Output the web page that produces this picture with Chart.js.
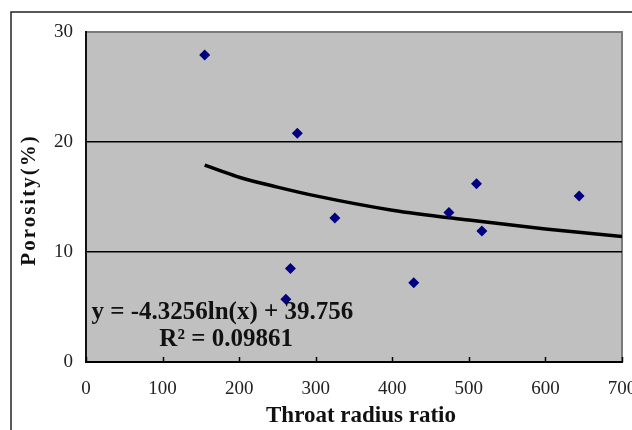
<!DOCTYPE html>
<html>
<head>
<meta charset="utf-8">
<script src="https://cdn.jsdelivr.net/npm/chart.js@4/dist/chart.umd.min.js"></script>
<style>
html, body { margin: 0; padding: 0; background: #fff; }
</style>
</head>
<body>
<canvas id="chart_porosity" width="632" height="430"></canvas>
<script>
// scatter points
var radiusRatio = [155, 261, 267, 276, 325, 428, 474, 510, 517, 644];
var porosity = [27.9, 5.7, 8.5, 20.8, 13.1, 7.2, 13.6, 16.2, 11.9, 15.1];

// log trendline
var trendX = [155, 175, 200, 250, 300, 400, 500, 600, 700];
var trendY = [17.9, 17.4, 16.8, 15.9, 15.1, 13.8, 12.9, 12.1, 11.4];

var xTitle = 'Throat radius ratio';
var yTitle = 'Porosity(%)';
var equationText = 'y = -4.3256ln(x) + 39.756';
var r2Text = 'R\u00B2 = 0.09861';

var serif = '"Times New Roman", "Liberation Serif", serif';

function toPoints(xs, ys) {
    return xs.map((x, i) => ({ x: x, y: ys[i] }));
}

var excelFrame = {
    id: 'excelFrame',
    beforeDraw(chart) {
        var ctx = chart.ctx, a = chart.chartArea;
        ctx.save();
        ctx.fillStyle = '#fff';
        ctx.fillRect(0, 0, chart.width, chart.height);
        // outer chart border (only left and top show)
        ctx.strokeStyle = '#222';
        ctx.lineWidth = 1.5;
        ctx.beginPath();
        ctx.moveTo(11, 440);
        ctx.lineTo(11, 12);
        ctx.lineTo(640, 12);
        ctx.stroke();
        // plot area
        ctx.fillStyle = '#c0c0c0';
        ctx.fillRect(a.left, a.top, a.right - a.left, a.bottom - a.top);
        ctx.strokeStyle = '#7a7a7a';
        ctx.lineWidth = 2;
        ctx.beginPath();
        ctx.moveTo(a.left, a.top);
        ctx.lineTo(a.right, a.top);
        ctx.lineTo(a.right, a.bottom);
        ctx.stroke();
        ctx.restore();
    },
    afterDraw(chart) {
        var ctx = chart.ctx, a = chart.chartArea;
        var xs = chart.scales.x, ys = chart.scales.y;
        ctx.save();
        // tick marks point into the plot
        ctx.strokeStyle = '#000';
        ctx.lineWidth = 1.5;
        xs.ticks.forEach(t => {
            var px = Math.round(xs.getPixelForValue(t.value)) + 0.5;
            ctx.beginPath();
            ctx.moveTo(px, a.bottom);
            ctx.lineTo(px, a.bottom - 5);
            ctx.stroke();
        });

        ctx.fillStyle = '#111';
        ctx.textAlign = 'center';
        ctx.textBaseline = 'middle';

        ctx.font = 'bold 23px ' + serif;
        ctx.fillText(xTitle, 361, 416);

        ctx.save();
        ctx.translate(30, 200);
        ctx.rotate(-Math.PI / 2);
        ctx.letterSpacing = '2px';
        ctx.font = 'bold 21px ' + serif;
        ctx.fillText(yTitle, 0, 0);
        ctx.restore();

        ctx.font = 'bold 25px ' + serif;
        ctx.fillText(equationText, xs.getPixelForValue(178), ys.getPixelForValue(4.5));
        ctx.fillText(r2Text, xs.getPixelForValue(183), ys.getPixelForValue(2.0));
        ctx.restore();
    }
};

var chartPorosity = new Chart(document.getElementById('chart_porosity'), {
    type: 'scatter',
    data: {
        datasets: [{
            label: 'Porosity',
            data: toPoints(radiusRatio, porosity),
            pointStyle: 'rectRot',
            pointRadius: 5.5,
            backgroundColor: '#000080',
            borderColor: '#000080',
            borderWidth: 0
        }, {
            label: 'Log trend',
            type: 'line',
            data: toPoints(trendX, trendY),
            borderColor: '#000',
            borderWidth: 3.5,
            pointRadius: 0,
            fill: false,
            cubicInterpolationMode: 'monotone'
        }]
    },
    options: {
        responsive: false,
        animation: false,
        layout: {
            padding: { left: 0, top: 32, right: 10, bottom: 0 }
        },
        plugins: {
            legend: { display: false },
            tooltip: { enabled: false }
        },
        scales: {
            x: {
                type: 'linear',
                min: 0,
                max: 700,
                ticks: {
                    stepSize: 100,
                    padding: 16,
                    color: '#222',
                    maxRotation: 0,
                    font: { family: serif, size: 19 }
                },
                grid: { drawOnChartArea: false, drawTicks: false },
                border: { color: '#000', width: 2 },
                afterFit: (scale) => {
                    scale.height = 68;
                    scale.paddingLeft = 0;
                    scale.paddingRight = 0;
                }
            },
            y: {
                min: 0,
                max: 30,
                ticks: {
                    stepSize: 10,
                    padding: 13,
                    color: '#222',
                    font: { family: serif, size: 19 }
                },
                grid: {
                    drawTicks: false,
                    color: (c) => (c.tick.value > 0 && c.tick.value < 30) ? '#000' : 'rgba(0,0,0,0)',
                    lineWidth: 1.5
                },
                border: { color: '#111', width: 2 },
                afterFit: (scale) => {
                    scale.width = 86;
                    scale.paddingTop = 0;
                    scale.paddingBottom = 0;
                }
            }
        }
    },
    plugins: [excelFrame]
});
</script>
</body>
</html>
